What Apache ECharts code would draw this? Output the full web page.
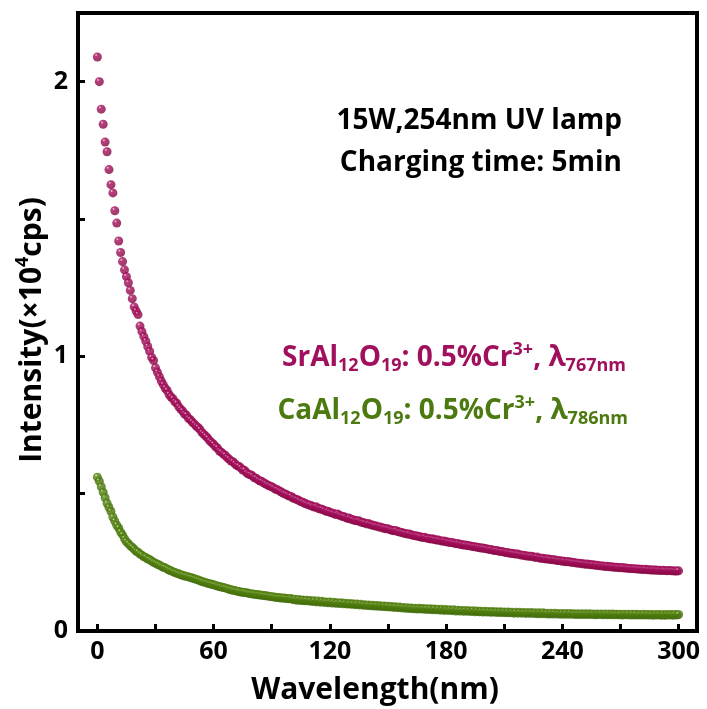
<!DOCTYPE html>
<html>
<head>
<meta charset="utf-8">
<script src="https://cdn.jsdelivr.net/npm/echarts@6/dist/echarts.min.js"></script>
<style>
  html, body { margin: 0; padding: 0; background: #fff; }
  #chart { width: 707px; height: 709px; }
</style>
</head>
<body>
<div id="chart"></div>
<script>
// Decay time axis (s), one reading per second
const times = Array.from({ length: 301 }, (_, i) => i);

// SrAl12O19:0.5%Cr3+ afterglow, monitored at 767 nm (x10^4 cps)
const srValues = [
  2.09,2.00,1.90,1.845,1.78,1.745,1.68,1.625,1.595,1.53,
  1.485,1.42,1.378,1.345,1.315,1.29,1.268,1.24,1.21,1.18,
  1.165,1.152,1.11,1.09,1.072,1.055,1.036,1.018,0.996,0.985,
  0.958,0.942,0.926,0.91,0.897,0.884,0.876,0.861,0.852,0.846,
  0.834,0.829,0.816,0.808,0.801,0.79,0.786,0.774,0.769,0.761,
  0.754,0.746,0.741,0.733,0.722,0.716,0.709,0.702,0.692,0.686,
  0.68,0.671,0.666,0.655,0.651,0.644,0.64,0.631,0.626,0.619,
  0.616,0.609,0.602,0.6,0.594,0.586,0.585,0.576,0.571,0.569,
  0.565,0.558,0.556,0.55,0.546,0.544,0.539,0.535,0.531,0.528,
  0.525,0.521,0.516,0.514,0.51,0.506,0.501,0.499,0.495,0.491,
  0.49,0.484,0.481,0.479,0.475,0.471,0.469,0.465,0.462,0.459,
  0.458,0.454,0.451,0.452,0.447,0.444,0.443,0.44,0.436,0.436,
  0.432,0.43,0.428,0.424,0.426,0.421,0.418,0.417,0.414,0.41,
  0.411,0.407,0.405,0.402,0.401,0.401,0.397,0.395,0.393,0.39,
  0.391,0.387,0.386,0.383,0.382,0.379,0.379,0.376,0.374,0.372,
  0.372,0.369,0.367,0.365,0.366,0.362,0.36,0.359,0.357,0.355,
  0.353,0.353,0.35,0.348,0.347,0.346,0.344,0.342,0.34,0.341,
  0.338,0.337,0.335,0.336,0.333,0.331,0.331,0.329,0.327,0.328,
  0.325,0.324,0.322,0.322,0.32,0.318,0.319,0.316,0.315,0.313,
  0.313,0.311,0.31,0.309,0.307,0.307,0.305,0.304,0.302,0.302,
  0.3,0.299,0.297,0.297,0.295,0.293,0.293,0.291,0.289,0.289,
  0.287,0.286,0.285,0.283,0.283,0.281,0.28,0.28,0.278,0.276,
  0.276,0.274,0.273,0.272,0.272,0.27,0.268,0.269,0.266,0.265,
  0.265,0.263,0.262,0.262,0.26,0.259,0.259,0.257,0.256,0.256,
  0.254,0.254,0.252,0.253,0.251,0.25,0.249,0.248,0.247,0.247,
  0.245,0.245,0.243,0.244,0.242,0.241,0.241,0.239,0.239,0.238,
  0.237,0.237,0.235,0.236,0.234,0.234,0.233,0.232,0.232,0.231,
  0.23,0.231,0.229,0.229,0.228,0.228,0.227,0.227,0.226,0.226,
  0.225,0.225,0.224,0.225,0.223,0.223,0.222,0.222,0.222,0.221,
  0.221,0.22,0.221,0.22,0.219,0.22,0.219,0.219,0.218,0.218,
  0.219
];

// CaAl12O19:0.5%Cr3+ afterglow, monitored at 786 nm (x10^4 cps)
const caValues = [
  0.56,0.545,0.525,0.505,0.485,0.465,0.45,0.435,0.415,0.40,
  0.385,0.375,0.36,0.35,0.336,0.325,0.318,0.31,0.305,0.298,
  0.29,0.287,0.28,0.276,0.27,0.268,0.262,0.26,0.255,0.25,
  0.247,0.243,0.24,0.236,0.232,0.23,0.226,0.222,0.219,0.216,
  0.213,0.21,0.208,0.205,0.203,0.2,0.199,0.197,0.195,0.193,
  0.19,0.188,0.186,0.183,0.18,0.178,0.176,0.174,0.172,0.17,
  0.168,0.166,0.164,0.162,0.16,0.158,0.157,0.155,0.152,0.15,
  0.148,0.147,0.145,0.144,0.142,0.141,0.14,0.139,0.137,0.136,
  0.135,0.134,0.133,0.132,0.131,0.13,0.129,0.128,0.127,0.126,
  0.125,0.124,0.123,0.122,0.121,0.12,0.12,0.119,0.118,0.117,
  0.118,0.114,0.116,0.112,0.115,0.111,0.113,0.11,0.112,0.109,
  0.111,0.107,0.11,0.106,0.109,0.105,0.108,0.104,0.106,0.103,
  0.106,0.102,0.105,0.101,0.103,0.1,0.103,0.099,0.101,0.098,
  0.1,0.097,0.099,0.096,0.098,0.095,0.097,0.094,0.096,0.093,
  0.095,0.092,0.094,0.091,0.093,0.09,0.092,0.089,0.091,0.088,
  0.09,0.087,0.089,0.086,0.088,0.085,0.087,0.084,0.086,0.083,
  0.085,0.082,0.084,0.081,0.083,0.08,0.083,0.08,0.082,0.079,
  0.081,0.078,0.081,0.077,0.08,0.077,0.079,0.076,0.079,0.075,
  0.078,0.075,0.077,0.074,0.077,0.073,0.076,0.073,0.075,0.072,
  0.075,0.072,0.074,0.071,0.074,0.07,0.073,0.07,0.072,0.069,
  0.072,0.069,0.071,0.068,0.071,0.068,0.07,0.067,0.07,0.067,
  0.069,0.066,0.069,0.066,0.068,0.065,0.068,0.065,0.068,0.065,
  0.067,0.064,0.067,0.064,0.067,0.064,0.066,0.063,0.066,0.063,
  0.066,0.063,0.065,0.062,0.065,0.062,0.065,0.062,0.064,0.061,
  0.064,0.061,0.064,0.061,0.064,0.061,0.063,0.06,0.063,0.06,
  0.063,0.06,0.063,0.06,0.063,0.06,0.062,0.059,0.062,0.06,
  0.062,0.059,0.062,0.059,0.062,0.059,0.062,0.059,0.061,0.059,
  0.061,0.058,0.061,0.059,0.061,0.058,0.061,0.058,0.061,0.058,
  0.06,0.058,0.061,0.058,0.06,0.058,0.06,0.057,0.06,0.058,
  0.06,0.057,0.06,0.057,0.06,0.058,0.06,0.057,0.06,0.058,
  0.06
];

// Axis ticks and labels
const xTickValues = [0, 30, 60, 90, 120, 150, 180, 210, 240, 270, 300];
const xLabelValues = [0, 60, 120, 180, 240, 300];
const yTickValues = [0, 0.5, 1, 1.5, 2];
const yLabelValues = [0, 1, 2];

const FONT = '"Open Sans", "Noto Sans", sans-serif';
const SR_COLOR = '#a0105c';
const CA_COLOR = '#4c7a10';

// shaded sphere look for the markers
function ball(light, mid, dark) {
  return {
    type: 'radial', x: 0.36, y: 0.3, r: 0.72,
    colorStops: [
      { offset: 0, color: light },
      { offset: 0.22, color: mid },
      { offset: 1, color: dark }
    ]
  };
}

const pairs = (vals) => times.map((t, i) => [t, vals[i]]);

const chart = echarts.init(document.getElementById('chart'), null, { renderer: 'canvas' });

const richLabel = (color) => ({
  m: { fontFamily: FONT, fontWeight: 'bold', fontSize: 28, fill: color, lineHeight: 34, verticalAlign: 'middle' },
  sub: { fontFamily: FONT, fontWeight: 'bold', fontSize: 18, fill: color, lineHeight: 18, verticalAlign: 'bottom' },
  sup: { fontFamily: FONT, fontWeight: 'bold', fontSize: 18, fill: color, lineHeight: 18, verticalAlign: 'top' }
});

chart.setOption({
  backgroundColor: '#fff',
  animation: false,
  grid: {
    left: 78, top: 13, width: 619, height: 618,
    show: true, borderColor: '#000', borderWidth: 4, backgroundColor: 'transparent'
  },
  xAxis: {
    type: 'value', min: -10, max: 309.5,
    axisLine: { show: false, onZero: false },
    splitLine: { show: false },
    axisTick: {
      show: true, inside: true, length: 7,
      lineStyle: { color: '#000', width: 3 },
      customValues: xTickValues
    },
    axisLabel: {
      customValues: xLabelValues,
      fontFamily: FONT, fontWeight: 'bold', fontSize: 25, color: '#000', margin: 8
    }
  },
  yAxis: {
    type: 'value', min: 0, max: 2.25,
    axisLine: { show: false, onZero: false },
    splitLine: { show: false },
    axisTick: {
      show: true, inside: true, length: 7,
      lineStyle: { color: '#000', width: 3 },
      customValues: yTickValues
    },
    axisLabel: {
      customValues: yLabelValues,
      fontFamily: FONT, fontWeight: 'bold', fontSize: 25, color: '#000', margin: 10
    }
  },
  series: [
    {
      name: 'SrAl12O19',
      type: 'scatter',
      data: pairs(srValues),
      symbol: 'circle',
      symbolSize: 9,
      itemStyle: { color: ball('#f3cfe1', '#a8105f', '#82063f') },
      emphasis: { disabled: true }
    },
    {
      name: 'CaAl12O19',
      type: 'scatter',
      data: pairs(caValues),
      symbol: 'circle',
      symbolSize: 9,
      itemStyle: { color: ball('#e2eecd', '#55840f', '#3c6608') },
      emphasis: { disabled: true }
    }
  ],
  graphic: [
    {
      type: 'text', x: 622, y: 121,
      style: {
        text: '15W,254nm UV lamp',
        fontFamily: FONT, fontWeight: 'bold', fontSize: 28, fill: '#000',
        align: 'right', verticalAlign: 'middle'
      }
    },
    {
      type: 'text', x: 622, y: 163,
      style: {
        text: 'Charging time: 5min',
        fontFamily: FONT, fontWeight: 'bold', fontSize: 28, fill: '#000',
        align: 'right', verticalAlign: 'middle'
      }
    },
    {
      type: 'text', x: 626, y: 358,
      style: {
        text: '{m|SrAl}{sub|12}{m|O}{sub|19}{m|: 0.5%Cr}{sup|3+}{m|, λ}{sub|767nm}',
        rich: richLabel(SR_COLOR),
        align: 'right', verticalAlign: 'middle'
      }
    },
    {
      type: 'text', x: 628, y: 411,
      style: {
        text: '{m|CaAl}{sub|12}{m|O}{sub|19}{m|: 0.5%Cr}{sup|3+}{m|, λ}{sub|786nm}',
        rich: richLabel(CA_COLOR),
        align: 'right', verticalAlign: 'middle'
      }
    },
    {
      type: 'text', x: 375, y: 690,
      style: {
        text: 'Wavelength(nm)',
        fontFamily: FONT, fontWeight: 'bold', fontSize: 30, fill: '#000',
        align: 'center', verticalAlign: 'middle'
      }
    },
    {
      type: 'text', x: 32, y: 330, rotation: Math.PI / 2,
      style: {
        text: '{m|Intensity(×10}{sup|4}{m|cps)}',
        rich: {
          m: { fontFamily: FONT, fontWeight: 'bold', fontSize: 30, fill: '#000', lineHeight: 36, verticalAlign: 'middle' },
          sup: { fontFamily: FONT, fontWeight: 'bold', fontSize: 18, fill: '#000', lineHeight: 18, verticalAlign: 'top' }
        },
        align: 'center', verticalAlign: 'middle'
      }
    }
  ]
});
</script>
</body>
</html>
